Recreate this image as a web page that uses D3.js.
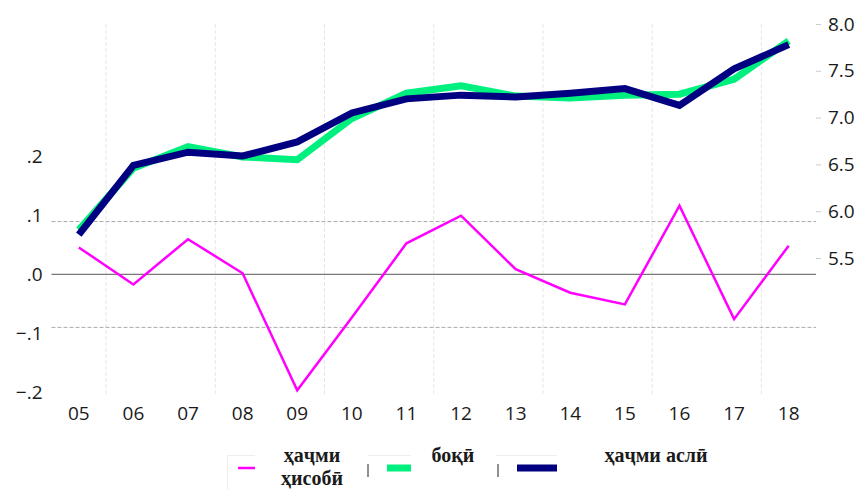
<!DOCTYPE html>
<html>
<head>
<meta charset="utf-8">
<script src="https://cdn.jsdelivr.net/npm/d3@7"></script>
<style>
  body { margin: 0; background: #fff; }
  .axis text { font-family: "Open Sans", sans-serif; font-size: 19px; fill: #1a1a1a; }
  .legend text { font-family: "Liberation Serif", serif; font-weight: bold; font-size: 20px; fill: #1a1a1a; }
</style>
</head>
<body>
<div class="chart"></div>
<script>
const years = ['05','06','07','08','09','10','11','12','13','14','15','16','17','18'];
// left axis (magenta)
const hisobi = [0.046, -0.017, 0.060, 0.002, -0.197, -0.073, 0.053, 0.100, 0.009, -0.031, -0.051, 0.117, -0.076, 0.049];
// right axis
const boqi = [5.80, 6.46, 6.69, 6.58, 6.55, 6.99, 7.26, 7.34, 7.23, 7.21, 7.24, 7.25, 7.41, 7.82];
const asli = [5.75, 6.49, 6.63, 6.59, 6.74, 7.05, 7.20, 7.24, 7.22, 7.26, 7.31, 7.13, 7.52, 7.78];
const leftTicks = [-0.2, -0.1, 0, 0.1, 0.2];
const rightTicks = [5.5, 6.0, 6.5, 7.0, 7.5, 8.0];
const refLines = [0.09, 0, -0.09];
const legendLabels = [['ҳаҷми', 'ҳисобӣ'], ['боқӣ'], ['ҳаҷми аслӣ']];

const width = 862, height = 490;
const plot = {left: 51.5, right: 816, top: 24, bottom: 395};

const svg = d3.select('.chart')
              .append('svg')
              .attr('width', width)
              .attr('height', height);

const xScale = d3.scaleBand()
                 .domain(years)
                 .range([plot.left, plot.right]);
const cx = d => xScale(d) + xScale.bandwidth() / 2;

const yLeft = d3.scaleLinear()
                .domain([-0.205, 0.426])
                .range([plot.bottom, plot.top]);
const yRight = d3.scaleLinear()
                 .domain([4.036, 8.0])
                 .range([plot.bottom, plot.top]);

// vertical grid every other band
svg.append('g')
   .selectAll('line')
   .data(years.filter((d, i) => i % 2 === 1))
   .enter()
   .append('line')
   .attr('x1', d => xScale(d)).attr('x2', d => xScale(d))
   .attr('y1', plot.top).attr('y2', plot.bottom)
   .attr('stroke', '#e6e6e6')
   .attr('stroke-dasharray', '4,2');

// horizontal reference lines
svg.append('g')
   .selectAll('line')
   .data(refLines)
   .enter()
   .append('line')
   .attr('x1', plot.left).attr('x2', plot.right)
   .attr('y1', d => yLeft(d)).attr('y2', d => yLeft(d))
   .attr('stroke', d => d === 0 ? '#777' : '#aaa')
   .attr('stroke-width', d => d === 0 ? 1.2 : 1)
   .attr('stroke-dasharray', d => d === 0 ? null : '4,2');

// axes
const xAxis = d3.axisBottom(xScale).tickSize(0).tickPadding(12);
svg.append('g')
   .attr('class', 'axis x-axis')
   .attr('transform', `translate(0, ${plot.bottom})`)
   .call(xAxis)
   .call(g => g.select('.domain').remove());

const yAxisL = d3.axisLeft(yLeft)
                 .tickValues(leftTicks)
                 .tickSize(0)
                 .tickPadding(9)
                 .tickFormat(d => d3.format('.1f')(d).replace('0.', '.'));
svg.append('g')
   .attr('class', 'axis y-axis')
   .attr('transform', `translate(${plot.left}, 0)`)
   .call(yAxisL)
   .call(g => g.select('.domain').remove());

const yAxisR = d3.axisRight(yRight)
                 .tickValues(rightTicks)
                 .tickSize(5)
                 .tickPadding(7)
                 .tickFormat(d3.format('.1f'));
svg.append('g')
   .attr('class', 'axis y-axis-right')
   .attr('transform', `translate(${plot.right}, 0)`)
   .call(yAxisR)
   .call(g => g.select('.domain').remove())
   .call(g => g.selectAll('.tick line').attr('stroke', '#ccc'));

// lines
const lineL = d3.line().x((d, i) => cx(years[i])).y(d => yLeft(d));
const lineR = d3.line().x((d, i) => cx(years[i])).y(d => yRight(d));

svg.append('path')
   .datum(boqi)
   .attr('d', lineR)
   .attr('fill', 'none')
   .attr('stroke', '#00f07f')
   .attr('stroke-width', 7);

svg.append('path')
   .datum(asli)
   .attr('d', lineR)
   .attr('fill', 'none')
   .attr('stroke', '#000080')
   .attr('stroke-width', 7);

svg.append('path')
   .datum(hisobi)
   .attr('d', lineL)
   .attr('fill', 'none')
   .attr('stroke', '#ff00ff')
   .attr('stroke-width', 2.5);

// legend
const legend = svg.append('g').attr('class', 'legend');
const legendItems = [
  {sym: [238, 255], w: 2.5, color: '#ff00ff', txt: 312, border: [227, 255], bar: null},
  {sym: [387, 411], w: 7, color: '#00f07f', txt: 453, border: [368, 411], bar: 368},
  {sym: [517, 557], w: 7, color: '#000080', txt: 656, border: [496, 557], bar: 498}
];
legendItems.forEach((it, i) => {
  legend.append('line')
        .attr('x1', it.border[0]).attr('x2', it.border[1])
        .attr('y1', 455.5).attr('y2', 455.5)
        .attr('stroke', '#eee');
  if (it.bar) {
    legend.append('line')
          .attr('x1', it.bar).attr('x2', it.bar)
          .attr('y1', 464).attr('y2', 477)
          .attr('stroke', '#222');
  }
  legend.append('line')
        .attr('x1', it.sym[0]).attr('x2', it.sym[1])
        .attr('y1', 468).attr('y2', 468)
        .attr('stroke', it.color)
        .attr('stroke-width', it.w);
  legendLabels[i].forEach((t, j) => {
    legend.append('text')
          .attr('x', it.txt)
          .attr('y', 462 + j * 23)
          .attr('text-anchor', 'middle')
          .text(t);
  });
});
legend.append('line')
      .attr('x1', 227.5).attr('x2', 227.5)
      .attr('y1', 455).attr('y2', 490)
      .attr('stroke', '#eee');
</script>
</body>
</html>
